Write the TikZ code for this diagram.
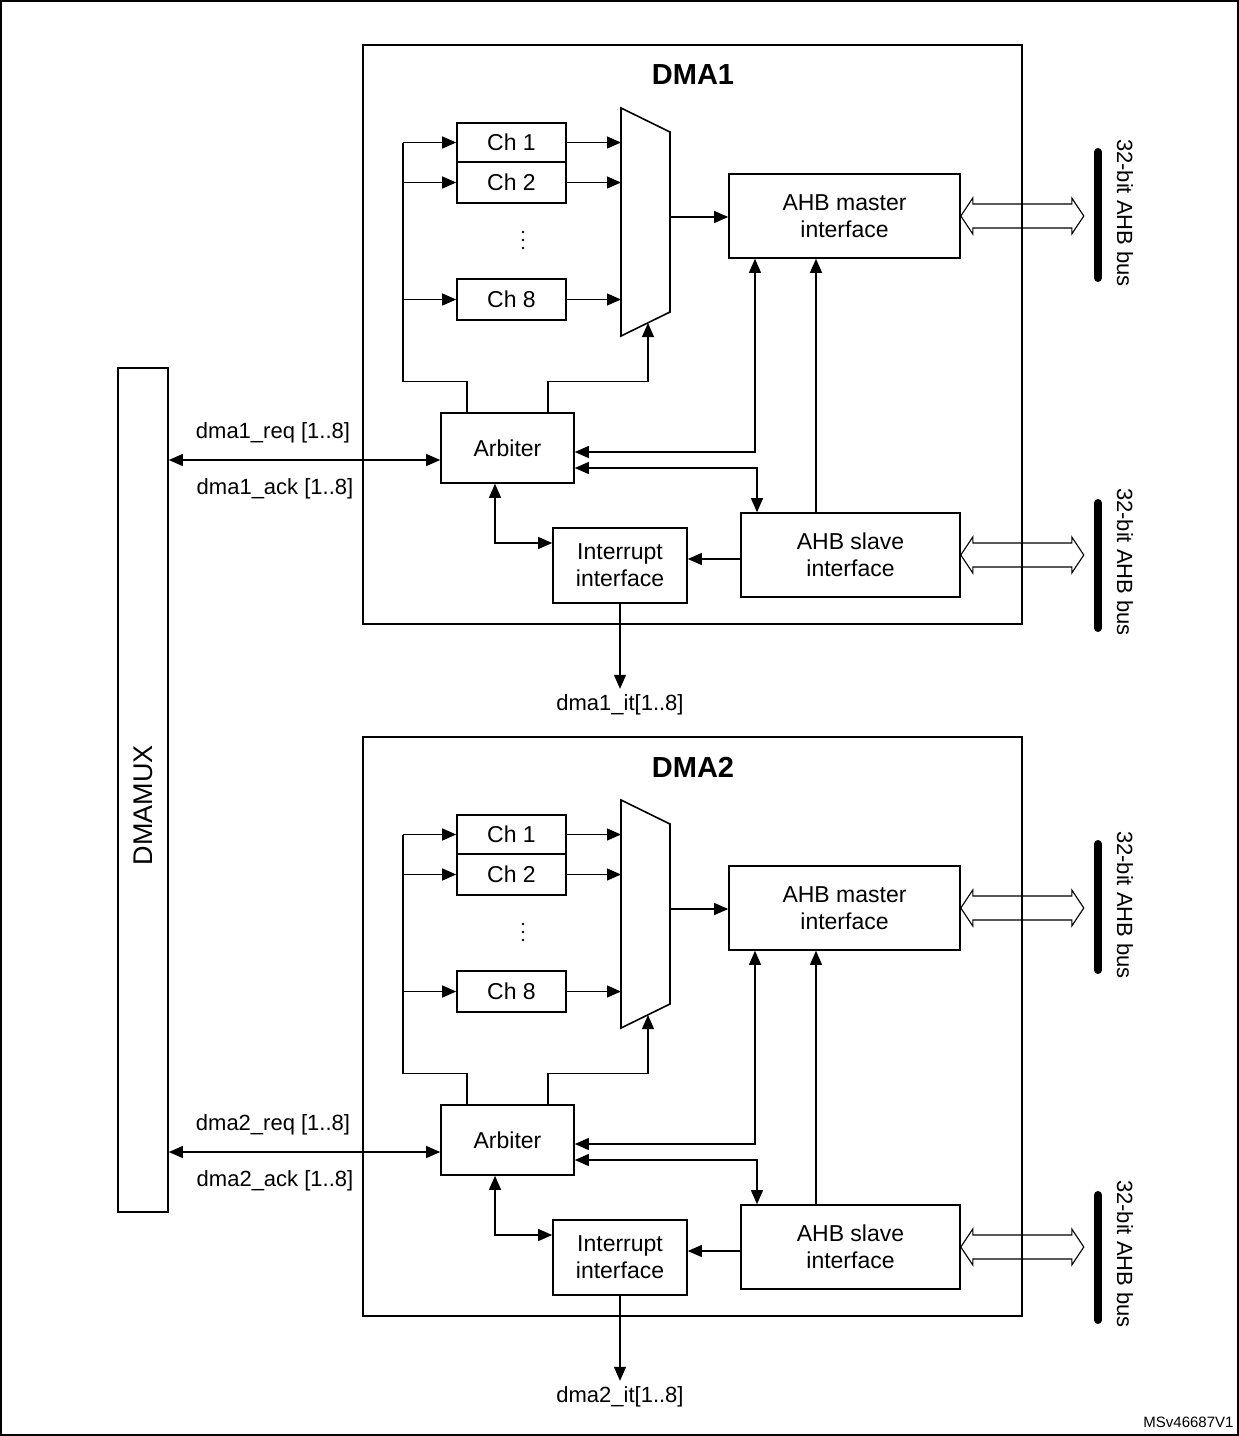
\documentclass[tikz,border=0pt]{standalone}
\usepackage{fontspec}
\setmainfont{Liberation Sans}
\usetikzlibrary{arrows.meta}
\begin{document}
\begin{tikzpicture}[x=1pt,y=-1pt,
  box/.style={draw,line width=1.6pt,inner sep=0pt,align=center,font=\fontsize{23}{27}\selectfont},
  ln/.style={line width=1.1pt},
  arr/.style={ln,-{Triangle[length=14pt,width=12pt]}},
  arrb/.style={ln,{Triangle[length=14pt,width=12pt]}-{Triangle[length=14pt,width=12pt]}},
  lbl/.style={font=\fontsize{22}{26}\selectfont,inner sep=0pt},
  bus/.style={line width=8pt,line cap=round}]
\useasboundingbox (0,0) rectangle (1239,1436);
\draw[line width=1.5pt] (1,1) rectangle (1238,1435);
\newcommand\dblarr[1]{\draw[ln,fill=none] (#1) -- ++(12,-18) -- ++(0,6) -- ++(99,0) -- ++(0,-6) -- ++(12,18) -- ++(-12,18) -- ++(0,-6) -- ++(-99,0) -- ++(0,6) -- cycle;}
\newcommand\dmablk[2]{%
\node[box,minimum width=659,minimum height=579] (#1box) at (692.5,334.5) {};
\node[font=\fontsize{29}{32}\selectfont\bfseries] (#1title) at (693,75) {DMA#2};
\node[box,minimum width=109,minimum height=39] (#1c1) at (511.5,142.5) {Ch 1};
\node[box,minimum width=109,minimum height=41] (#1c2) at (511.5,182.5) {Ch 2};
\node[box,minimum width=109,minimum height=41] (#1c8) at (511.5,299.5) {Ch 8};
\foreach \d in {232,240,248} \fill (523,\d) circle (1.3pt);
\node[box,minimum width=133,minimum height=70] (#1arb) at (507.5,448) {Arbiter};
\node[box,minimum width=231,minimum height=84] (#1mst) at (844.5,216) {AHB master\\interface};
\node[box,minimum width=219,minimum height=84] (#1slv) at (850.5,555) {AHB slave\\interface};
\node[box,minimum width=134,minimum height=75] (#1int) at (620,565.5) {Interrupt\\interface};
\draw[line width=1.6pt] (621,108) coordinate (#1m1) -- (670,132) -- (670,312) -- (621,336) -- cycle;
\coordinate (#1ml) at (621,0);
\coordinate (#1mo) at (670,217);
\coordinate (#1mb) at (648,323);
\foreach \c in {c1,c2,c8} \draw[arr] (#1\c.east) -- (#1\c.east -| #1ml);
\coordinate (#1bx) at (403,0);
\draw[ln] ([xshift=-40.5]#1arb.north) -- ++(0,-31) -| (#1bx |- #1c1.west);
\foreach \c in {c1,c2,c8} \draw[arr] (#1bx |- #1\c.west) -- (#1\c.west);
\draw[arr] ([xshift=40.5]#1arb.north) -- ++(0,-31) -| (#1mb);
\draw[arr] (#1mo) -- (#1mst.west |- #1mo);
\draw[arrb] ([yshift=-4]#1arb.east) -| ([xshift=-89.5]#1mst.south);
\draw[arrb] ([yshift=-20]#1arb.east) -| ([xshift=-93.5]#1slv.north);
\draw[arr] ([xshift=-34.5]#1slv.north) -- ([xshift=-28.5]#1mst.south);
\coordinate (#1ie) at ([yshift=6.5]#1int.east);
\draw[arr] (#1slv.west |- #1ie) -- (#1ie);
\draw[arrb] ([xshift=-12.5]#1arb.south) |- ([yshift=22.5]#1int.west);
\draw[arr] (#1int.south) -- ++(0,85) coordinate (#1ito);
\node[lbl,anchor=north] (#1itl) at ([yshift=-6]#1ito) {dma#2\_it[1..8]};
\coordinate (#1ar) at ([yshift=-12]#1arb.west);
\draw[arrb] (mux.east |- #1ar) -- (#1ar);
\node[lbl] (#1req) at (273,433) {dma#2\_req [1..8]};
\node[lbl] (#1ack) at (275,489) {dma#2\_ack [1..8]};
\dblarr{#1mst.east}
\dblarr{#1slv.east}
\coordinate (#1b1a) at (1098,152); \coordinate (#1b1b) at (1098,278);
\coordinate (#1b2a) at (1098,503); \coordinate (#1b2b) at (1098,628);
\draw[bus] (#1b1a) -- (#1b1b);
\draw[bus] (#1b2a) -- (#1b2b);
\node[lbl,rotate=-90] (#1bl1) at (1125,213) {32-bit AHB bus};
\node[lbl,rotate=-90] (#1bl2) at (1125,562) {32-bit AHB bus};
}
\node[draw,line width=1.6pt,minimum width=50,minimum height=844] (mux) at (143,790) {};
\node[rotate=90,font=\fontsize{27}{30}\selectfont] (muxl) at (143,805) {DMAMUX};
\begin{scope}\dmablk{a}{1}\end{scope}
\begin{scope}[shift={(0,692)}]\dmablk{b}{2}\end{scope}
\node[font=\fontsize{15}{17}\selectfont,anchor=east] (ref) at (1237,1422) {MSv46687V1};
\end{tikzpicture}
\end{document}
